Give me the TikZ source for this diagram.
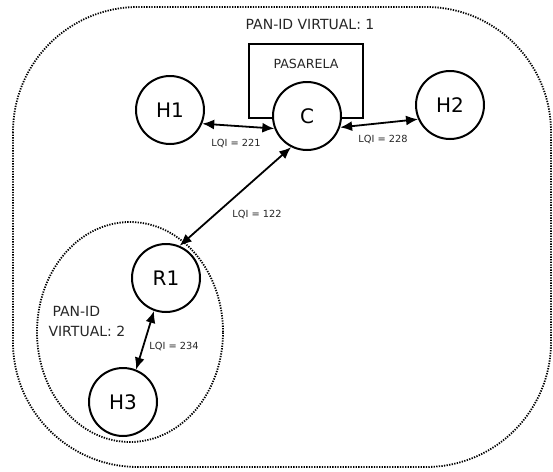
\documentclass[tikz,border=0pt]{standalone}
\usepackage{fontspec}
\setmainfont{DejaVu Sans}
\usetikzlibrary{arrows.meta}
\begin{document}
\begin{tikzpicture}[x=1pt,y=-1pt,
  dev/.style={circle,draw,line width=2pt,fill=white,minimum size=68pt,inner sep=0pt,font=\fontsize{20}{22}\selectfont},
  zone/.style={line width=1.8pt,dash pattern=on 1.3pt off 1.3pt},
  link/.style={line width=1.8pt,{Latex[length=12pt,width=10pt]}-{Latex[length=12pt,width=10pt]}},
  lqi/.style={font=\fontsize{9.8}{11}\selectfont,text=black!85},
  zlabel/.style={font=\fontsize{14}{16}\selectfont,text=black!85}]
\useasboundingbox (0,0) rectangle (553,471);
\draw[zone,rounded corners=125pt] (13,7) rectangle (551,467);
\draw[zone] (130,332) ellipse [x radius=93pt, y radius=110pt];
\node[zlabel] (t1) at (310,24) {PAN-ID VIRTUAL: 1};
\node[zlabel,anchor=west] (t2a) at (49,311) {PAN-ID};
\node[zlabel,anchor=west] (t2b) at (45,331) {VIRTUAL: 2};
\draw[line width=2pt] (249,118) rectangle (363,44);
\node[font=\fontsize{12.6}{14}\selectfont,text=black!85] (pas) at (306,64) {PASARELA};
\node[dev] (H1) at (170,110) {H1};
\node[dev] (C) at (307,116) {C};
\node[dev] (H2) at (450,105) {H2};
\node[dev] (R1) at (166,278) {R1};
\node[dev] (H3) at (123,402) {H3};
\draw[link] (H1.-23) -- (C.201);
\draw[link] (C.-19) -- (H2.204);
\draw[link] (C.243) -- (R1.67);
\draw[link] (R1.250) -- (H3.68);
\node[lqi] (l1) at (236,143) {LQI = 221};
\node[lqi] (l2) at (383,139) {LQI = 228};
\node[lqi] (l3) at (257,214) {LQI = 122};
\node[lqi] (l4) at (174,346) {LQI = 234};
\end{tikzpicture}
\end{document}
